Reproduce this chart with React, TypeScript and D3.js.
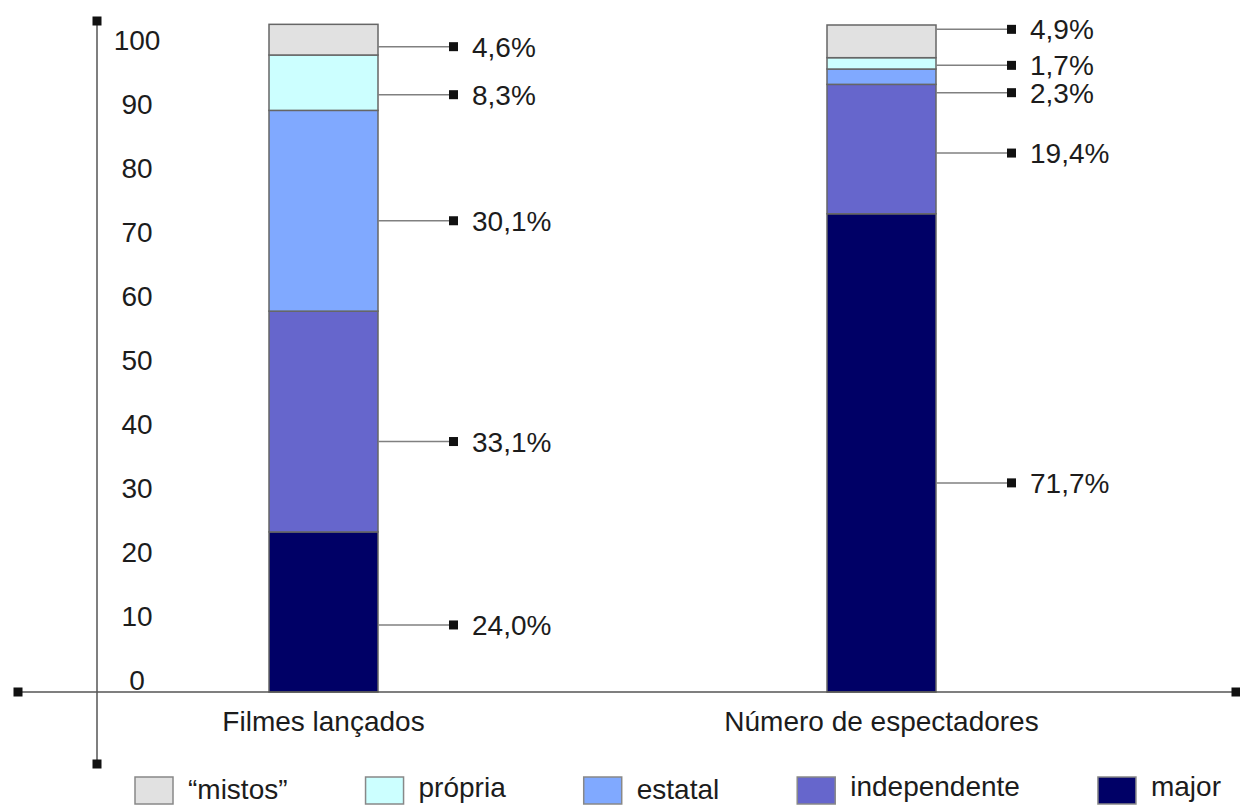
import React, { useEffect, useRef } from "react";
import * as d3 from "d3";

// Categories along the horizontal axis
const categories = ["Filmes lançados", "Número de espectadores"];

// Share (%) of each type of distributor, per category
const majorValues = [24.0, 71.7];
const independenteValues = [33.1, 19.4];
const estatalValues = [30.1, 2.3];
const propriaValues = [8.3, 1.7];
const mistosValues = [4.6, 4.9];

// Stack order, bottom to top
const seriesKeys = ["major", "independente", "estatal", "propria", "mistos"];
const seriesLabels: Record<string, string> = {
  major: "major",
  independente: "independente",
  estatal: "estatal",
  propria: "própria",
  mistos: "“mistos”",
};
// Legend order, left to right
const legendKeys = ["mistos", "propria", "estatal", "independente", "major"];

// Y-axis tick values
const tickValues = [0, 10, 20, 30, 40, 50, 60, 70, 80, 90, 100];

const colors: Record<string, string> = {
  mistos: "#e1e1e1",
  propria: "#ccffff",
  estatal: "#80a9ff",
  independente: "#6666cc",
  major: "#000066",
};

// Vertical nudges (px) for the value callouts so they don't collide
const calloutShift = [
  [13, 20, 10, 12, 7],
  [30, 4, 16, 2, -12],
];
// Baselines for legend captions
const legendBaseline = [799, 797, 799, 796, 796];

const W = 1240;
const H = 805;
const FONT = "'Liberation Sans', Arial, Helvetica, sans-serif";
const TEXT = "#1c1c1c";

export default function App() {
  const ref = useRef<SVGSVGElement | null>(null);

  useEffect(() => {
    const svg = d3.select(ref.current);
    svg.selectAll("*").remove();

    const rows = categories.map((c, i) => ({
      category: c,
      major: majorValues[i],
      independente: independenteValues[i],
      estatal: estatalValues[i],
      propria: propriaValues[i],
      mistos: mistosValues[i],
    }));

    const stacked = d3.stack<any>().keys(seriesKeys)(rows);

    const y = d3.scaleLinear().domain([0, 100]).range([692, 25]);
    const yLabel = d3.scaleLinear().domain([0, 100]).range([680, 40]);
    const x = d3.scalePoint<string>().domain(categories).range([323.5, 881.5]);
    const barW = 109;

    const locale = d3.formatLocale({
      decimal: ",",
      thousands: ".",
      grouping: [3],
      currency: ["", "€"],
    });
    const fmt = locale.format(".1f");

    const g = svg.append("g").attr("font-family", FONT).attr("fill", TEXT);

    // Bars
    stacked.forEach((layer) => {
      layer.forEach((d, i) => {
        const cx = x(categories[i]) as number;
        g.append("rect")
          .attr("x", cx - barW / 2)
          .attr("y", y(d[1]))
          .attr("width", barW)
          .attr("height", y(d[0]) - y(d[1]))
          .attr("fill", colors[layer.key])
          .attr("stroke", "#666")
          .attr("stroke-width", 1.5);
      });
    });

    // Axes
    const axisColor = "#555";
    const yAxisX = 97;
    const xAxisY = y(0);
    g.append("line")
      .attr("x1", yAxisX).attr("x2", yAxisX)
      .attr("y1", 21).attr("y2", 764)
      .attr("stroke", axisColor).attr("stroke-width", 1.5);
    g.append("line")
      .attr("x1", 18).attr("x2", 1236)
      .attr("y1", xAxisY).attr("y2", xAxisY)
      .attr("stroke", axisColor).attr("stroke-width", 1.5);
    const ends: [number, number][] = [
      [yAxisX, 21],
      [yAxisX, 764],
      [18, xAxisY],
      [1236, xAxisY],
    ];
    ends.forEach(([ex, ey]) => {
      g.append("rect")
        .attr("x", ex - 4.5).attr("y", ey - 4.5)
        .attr("width", 9).attr("height", 9)
        .attr("fill", "#111");
    });

    // Tick labels
    tickValues.forEach((v) => {
      g.append("text")
        .attr("x", 137)
        .attr("y", yLabel(v))
        .attr("dy", "0.36em")
        .attr("text-anchor", "middle")
        .attr("font-size", 28)
        .text(String(v));
    });

    // Category labels
    categories.forEach((c) => {
      g.append("text")
        .attr("x", x(c) as number)
        .attr("y", 731)
        .attr("text-anchor", "middle")
        .attr("font-size", 28)
        .text(c);
    });

    // Value callouts
    stacked.forEach((layer, si) => {
      layer.forEach((d, i) => {
        const cx = x(categories[i]) as number;
        const x0 = cx + barW / 2;
        const x1 = x0 + 72;
        const ly = (y(d[0]) + y(d[1])) / 2 + calloutShift[i][si];
        g.append("line")
          .attr("x1", x0).attr("x2", x1)
          .attr("y1", ly).attr("y2", ly)
          .attr("stroke", "#808080").attr("stroke-width", 1.5);
        g.append("rect")
          .attr("x", x1 - 1).attr("y", ly - 4.5)
          .attr("width", 9).attr("height", 9)
          .attr("fill", "#111");
        g.append("text")
          .attr("x", x1 + 22)
          .attr("y", ly + 10)
          .attr("font-size", 28)
          .text(fmt(d[1] - d[0]) + "%");
      });
    });

    // Legend
    let lx = 135;
    legendKeys.forEach((k, i) => {
      g.append("rect")
        .attr("x", lx).attr("y", 777)
        .attr("width", 38).attr("height", 27)
        .attr("fill", colors[k])
        .attr("stroke", "#888").attr("stroke-width", 1.5);
      const t = g.append("text")
        .attr("x", lx + 53)
        .attr("y", legendBaseline[i])
        .attr("font-size", 28)
        .text(seriesLabels[k]);
      const tw = (t.node() as SVGTextElement).getComputedTextLength();
      lx = lx + 53 + tw + 78;
    });
  }, []);

  return (
    <svg
      ref={ref}
      width={W}
      height={H}
      style={{ position: "absolute", left: 0, top: 0, background: "#fff" }}
    />
  );
}
